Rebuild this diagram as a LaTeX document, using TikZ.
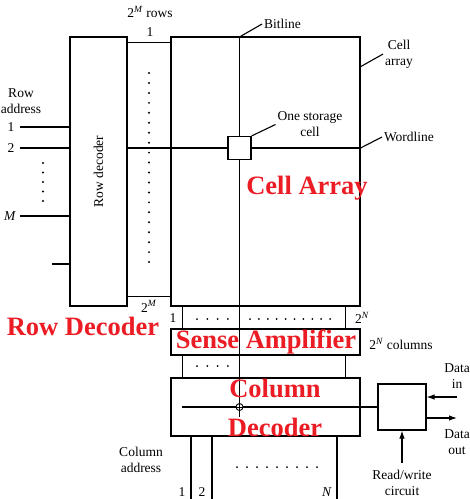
\documentclass[tikz,border=0pt]{standalone}
\usepackage{fontspec}
\setmainfont{Liberation Serif}
\usetikzlibrary{arrows.meta}
\definecolor{labelred}{RGB}{235,28,36}

\begin{document}
\begin{tikzpicture}[
  x=1pt, y=-1pt,
  line width=1.1pt,
  block/.style={draw, rectangle, inner sep=0pt},
  strip/.style={rectangle, inner sep=0pt},
  small/.style={font=\fontsize{13.5}{16}\selectfont, align=center, inner sep=1.5pt},
  bigred/.style={font=\fontsize{26.5}{30}\selectfont\bfseries, text=labelred, inner sep=0pt},
  flow/.style={-{Latex[length=8pt,width=5.5pt]}}
]
\useasboundingbox (0,0) rectangle (470,499);

\node[block, minimum width=57pt, minimum height=269pt] (rowdec) at (98.5,171.5) {};
\node[small, rotate=90] (rowdectext) at (rowdec.center) {Row decoder};
\node[strip, minimum width=44pt, minimum height=253pt] (rowstrip) at (149,169.5) {};
\node[block, minimum width=189pt, minimum height=269pt] (cellarray) at (265.5,171.5) {};
\node[strip, minimum width=162pt, minimum height=23pt] (senseup) at (264,317.5) {};
\node[block, minimum width=189pt, minimum height=26pt] (senseamp) at (265.5,342) {};
\node[strip, minimum width=162pt, minimum height=23pt] (sensedown) at (264,366.5) {};
\node[block, minimum width=189pt, minimum height=58pt] (coldec) at (265.5,407) {};
\node[block, minimum width=48pt, minimum height=46pt] (rwbox) at (402,407) {};
\node[block, fill=white, minimum size=23pt] (store) at (239.5,148) {};

\coordinate (bittop) at (239.5,37);
\coordinate (bitend) at (239.5,417);
\coordinate (addr1) at (20,127);
\coordinate (addr2) at (20,148);
\coordinate (addrM) at (20,216);
\coordinate (addrX) at (52,264);
\coordinate (arraytick) at (360,67);
\coordinate (selstart) at (182,407);
\coordinate (rwin) at (402,463);
\coordinate (datain) at (457,397);
\coordinate (dataout) at (457,418);
\coordinate (col1) at (191,499);
\coordinate (col2) at (212,499);
\coordinate (colN) at (337,499);

\draw (rowstrip.north west) -- (rowstrip.north east);
\draw (rowstrip.south west) -- (rowstrip.south east);
\draw (senseup.north west) -- (senseup.south west);
\draw (senseup.north east) -- (senseup.south east);
\draw (sensedown.north west) -- (sensedown.south west);
\draw (sensedown.north east) -- (sensedown.south east);

\draw (bittop) -- (store);
\draw (store) -- (bitend);
\draw (addr1) -- (addr1 -| rowdec.west);
\draw (addr2) -- (addr2 -| rowdec.west);
\draw (addr2 -| rowdec.east) -- (store);
\draw (store) -- (store -| cellarray.east);
\draw (addrM) -- (addrM -| rowdec.west);
\draw (addrX) -- (addrX -| rowdec.west);
\draw (selstart) -- (rwbox.west);
\node[draw, circle, fill=white, inner sep=0pt, minimum size=7pt, line width=0.9pt] (bitmark) at (239.5,407) {};
\draw[line width=0.9pt] (bitmark.north) -- (bitmark.south) (bitmark.west) -- (bitmark.east);
\draw (col1 |- coldec.south) -- (col1);
\draw (col2 |- coldec.south) -- (col2);
\draw (colN |- coldec.south) -- (colN);
\draw[flow] (rwin) -- (rwbox.south);
\draw[flow] (datain) -- (datain -| rwbox.east);
\draw[flow] (dataout -| rwbox.east) -- (dataout);

\foreach \y in {163,172.5,...,202} \fill (43,\y) circle (1.1pt);
\foreach \i in {0,...,19} \fill (149,73+9.95*\i) circle (1.1pt);
\foreach \x in {197,207.3,...,229} \fill (\x,319) circle (1pt);
\foreach \i in {0,...,9} \fill (250+8.9*\i,319) circle (1pt);
\foreach \x in {197,207.3,...,229} \fill (\x,366) circle (1pt);
\foreach \i in {0,...,8} \fill (237+10*\i,467) circle (1pt);

\node[small] (rowaddr) at (21,101) {Row\\address};
\node[small] (addr1lbl) at (11,127) {1};
\node[small] (addr2lbl) at (11,148) {2};
\node[small] (addrMlbl) at (10,216) {\textit{M}};
\node[small] (rowslbl) at (150,12) {2\textsuperscript{\textit{M}} rows};
\node[small] (firstrow) at (150,32) {1};
\node[small] (lastrow) at (149,306.5) {2\textsuperscript{\textit{M}}};
\node[small] (firstcol) at (173,318) {1};
\node[small] (lastcol) at (362,318) {2\textsuperscript{\textit{N}}};
\node[small] (colslbl) at (401,344) {2\textsuperscript{\textit{N}} columns};
\node[small] (coladdr) at (141,460) {Column\\address};
\node[small] (col1lbl) at (182,492) {1};
\node[small] (col2lbl) at (202,492) {2};
\node[small] (colNlbl) at (327,492) {\textit{N}};
\node[small] (rwlabel) at (402,483) {Read/write\\circuit};
\node[small] (inlabel) at (457,376) {Data\\in};
\node[small] (outlabel) at (457,442) {Data\\out};

\node[small, anchor=west] (bitlabel) at (262,24) {Bitline};
\draw (bittop) -- (bitlabel.west);
\node[small] (arraylabel) at (399,54) {Cell\\array};
\draw (arraytick) -- (arraylabel.west);
\node[small] (storelabel) at (310,124.5) {One storage\\cell};
\draw (store.north east) -- (storelabel.west);
\node[small, anchor=west] (wordlabel) at (382,137) {Wordline};
\draw (store -| cellarray.east) -- (wordlabel.west);

\node[bigred] (rowdecname) at (83,326) {Row Decoder};
\node[bigred] (cellname) at (307,188) {Cell Array};
\node[bigred] (sensename) at (266,342) {Sense Amplifier};
\node[bigred, align=center, font=\fontsize{26.5}{39}\selectfont\bfseries] (colname) at (275,408) {Column\\Decoder};
\end{tikzpicture}
\end{document}
